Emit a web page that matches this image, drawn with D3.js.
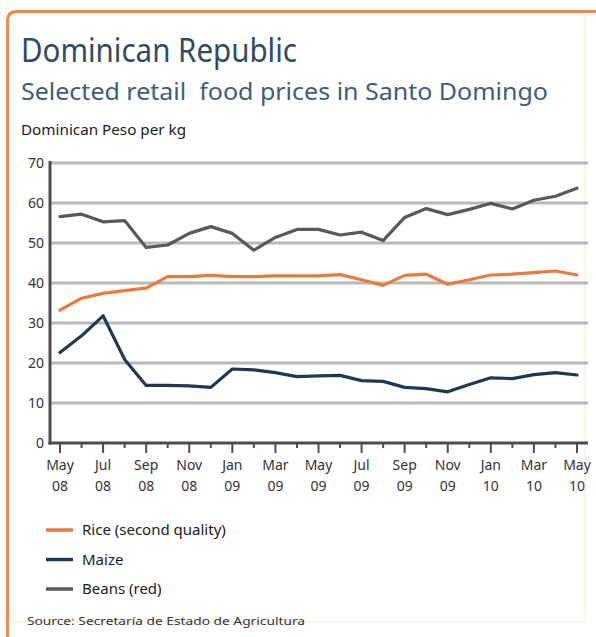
<!DOCTYPE html>
<html><head><meta charset="utf-8">
<script src="https://cdn.jsdelivr.net/npm/d3@7/dist/d3.min.js"></script>
<style>html,body{margin:0;padding:0;background:#fff;}svg{display:block;}</style>
</head><body>
<script>
const months = ["May 08","Jun 08","Jul 08","Aug 08","Sep 08","Oct 08","Nov 08","Dec 08","Jan 09","Feb 09","Mar 09","Apr 09","May 09","Jun 09","Jul 09","Aug 09","Sep 09","Oct 09","Nov 09","Dec 09","Jan 10","Feb 10","Mar 10","Apr 10","May 10"];
const rice  = [33.2,36.2,37.4,38.1,38.7,41.6,41.6,41.9,41.6,41.6,41.8,41.8,41.8,42.1,40.8,39.4,41.9,42.2,39.7,40.8,42.0,42.2,42.6,43.0,42.0];
const maize = [22.6,26.8,31.8,20.9,14.4,14.4,14.3,13.9,18.5,18.3,17.6,16.6,16.8,16.9,15.6,15.4,13.9,13.6,12.8,14.6,16.3,16.1,17.1,17.6,17.0];
const beans = [56.6,57.2,55.3,55.6,48.9,49.5,52.4,54.1,52.4,48.2,51.4,53.4,53.4,52.0,52.7,50.6,56.4,58.6,57.1,58.4,59.9,58.5,60.7,61.7,63.7];
const yTicks = [0,10,20,30,40,50,60,70];
const seriesNames = ["Rice (second quality)","Maize","Beans (red)"];
const seriesColors = ["#ea7a3e","#1e3a50","#58595b"];

const W = 596, H = 637;
const svg = d3.select("body").append("svg").attr("width", W).attr("height", H);
const font = "'Noto Sans', 'Open Sans', sans-serif";

// panel frame
svg.append("rect").attr("x", 9).attr("y", 13).attr("width", 576).attr("height", 609)
  .attr("fill", "none").attr("stroke", "#fbf6dc").attr("stroke-width", 2);
svg.append("path").attr("d", "M7.5,637 L7.5,21 Q7.5,11.5 17,11.5 L596,11.5")
  .attr("fill", "none").attr("stroke", "#f08a4b").attr("stroke-width", 3);

function fitText(sel, width) {
  sel.attr("textLength", width).attr("lengthAdjust", "spacingAndGlyphs");
}

// titles
fitText(svg.append("text").attr("x", 21).attr("y", 62).attr("font-family", font)
  .attr("font-size", 32).attr("fill", "#2f4b63").text("Dominican Republic"), 276);
fitText(svg.append("text").attr("x", 21).attr("y", 100).attr("font-family", font)
  .attr("font-size", 23).attr("fill", "#3c5e7c").style("white-space", "pre")
  .text("Selected retail  food prices in Santo Domingo"), 527);
fitText(svg.append("text").attr("x", 21).attr("y", 135).attr("font-family", font)
  .attr("font-size", 15).attr("fill", "#1a1a1a").text("Dominican Peso per kg"), 165);

// scales
const x = d3.scaleLinear().domain([0, months.length - 1]).range([60, 577]);
const y = d3.scaleLinear().domain([0, 70]).range([443, 163]);
const x0 = 50, x1 = 588;

// gridlines
svg.append("g").selectAll("line").data(yTicks.filter(d => d > 0)).join("line")
  .attr("x1", x0).attr("x2", x1).attr("y1", d => y(d)).attr("y2", d => y(d))
  .attr("stroke", "#b8b8b8").attr("stroke-width", 3);

// y axis
const yAxis = d3.axisLeft(y).tickValues(yTicks).tickSize(0).tickPadding(6);
const gy = svg.append("g").attr("transform", `translate(${x0},0)`).call(yAxis);
gy.select(".domain").remove();
gy.selectAll("text").attr("font-family", font).attr("font-size", 14).attr("fill", "#333");
svg.append("line").attr("x1", x0).attr("x2", x0).attr("y1", 161).attr("y2", 444.5)
  .attr("stroke", "#4d4d4d").attr("stroke-width", 3);

// x axis
const xAxis = d3.axisBottom(x).tickValues(d3.range(months.length)).tickSize(0).tickFormat("");
const gx = svg.append("g").attr("transform", "translate(0,443)").call(xAxis);
gx.select(".domain").remove();
svg.append("line").attr("x1", x0 - 1.5).attr("x2", x1).attr("y1", 443).attr("y2", 443)
  .attr("stroke", "#4d4d4d").attr("stroke-width", 3);
svg.append("g").selectAll("line").data(d3.range(months.length)).join("line")
  .attr("x1", d => x(d)).attr("x2", d => x(d)).attr("y1", 443)
  .attr("y2", d => d % 2 === 0 ? 453 : 448)
  .attr("stroke", "#4d4d4d").attr("stroke-width", 2);
const lbl = svg.append("g").selectAll("g").data(d3.range(0, months.length, 2)).join("g")
  .attr("transform", d => `translate(${x(d)},0)`);
lbl.append("text").attr("y", 470).attr("text-anchor", "middle").attr("font-family", font)
  .attr("font-size", 14).attr("fill", "#333").text(d => months[d].split(" ")[0]);
lbl.append("text").attr("y", 491).attr("text-anchor", "middle").attr("font-family", font)
  .attr("font-size", 14).attr("fill", "#333").text(d => months[d].split(" ")[1]);

// lines
const line = d3.line().x((d, i) => x(i)).y(d => y(d));
[beans, rice, maize].forEach((s, k) => {
  const ci = [2, 0, 1][k];
  svg.append("path").datum(s).attr("d", line).attr("fill", "none")
    .attr("stroke", seriesColors[ci]).attr("stroke-width", 3.2)
    .attr("stroke-linejoin", "round").attr("stroke-linecap", "round");
});

// legend
const lg = svg.append("g").selectAll("g").data(seriesNames).join("g")
  .attr("transform", (d, i) => `translate(0,${530 + i * 29.5})`);
lg.append("line").attr("x1", 46).attr("x2", 73).attr("y1", 0).attr("y2", 0)
  .attr("stroke", (d, i) => seriesColors[i]).attr("stroke-width", 3.5);
lg.append("text").attr("x", 82).attr("y", 5).attr("font-family", font).attr("font-size", 15)
  .attr("fill", "#1a1a1a").text(d => d);

// source
fitText(svg.append("text").attr("x", 27).attr("y", 625).attr("font-family", font)
  .attr("font-size", 11).attr("fill", "#333").text("Source: Secretaría de Estado de Agricultura"), 278);
</script>
</body></html>
